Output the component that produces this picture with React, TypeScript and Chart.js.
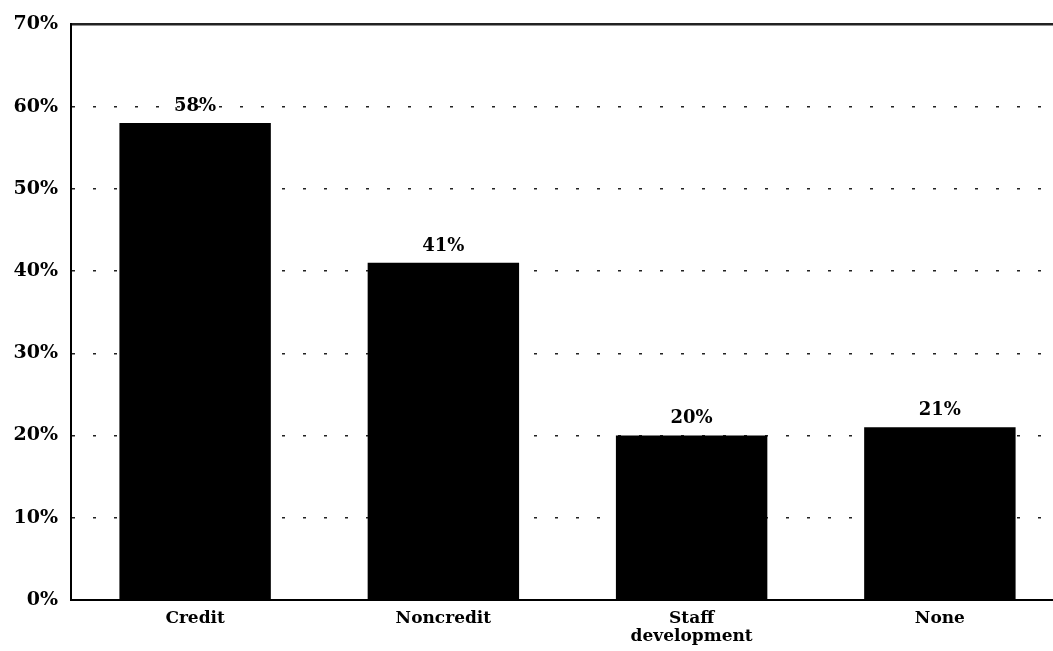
import React, { useEffect, useRef } from "react";
import { Chart, registerables } from "chart.js";

Chart.register(...registerables);

const categories: (string | string[])[] = ["Credit", "Noncredit", ["Staff", "development"], "None"];
const values: number[] = [58, 41, 20, 21];
const yTicks: number[] = [0, 10, 20, 30, 40, 50, 60, 70];

const FONT = "'DejaVu Serif', serif";

const valueLabels = {
  id: "valueLabels",
  afterDatasetsDraw(chart: any) {
    const { ctx } = chart;
    const meta = chart.getDatasetMeta(0);
    ctx.save();
    ctx.fillStyle = "#000";
    ctx.font = `bold 18px ${FONT}`;
    ctx.textAlign = "center";
    ctx.textBaseline = "bottom";
    meta.data.forEach((bar: any, i: number) => {
      ctx.fillText(values[i] + "%", bar.x, bar.y - 8);
    });
    ctx.restore();
  },
};

export default function App() {
  const ref = useRef<HTMLCanvasElement | null>(null);
  useEffect(() => {
    if (!ref.current) return;
    const chart = new Chart(ref.current, {
      type: "bar",
      data: {
        labels: categories,
        datasets: [
          {
            data: values,
            backgroundColor: "#000",
            borderWidth: 0,
            barPercentage: 0.61,
            categoryPercentage: 1,
          },
        ],
      },
      options: {
        responsive: false,
        animation: false,
        events: [],
        layout: { padding: { top: 22, left: 0, right: 0, bottom: 0 } },
        plugins: { legend: { display: false }, tooltip: { enabled: false } },
        scales: {
          x: {
            grid: { display: false, drawTicks: false },
            border: { display: true, color: "#000", width: 2 },
            ticks: {
              color: "#000",
              font: { family: FONT, size: 17, weight: "bold", lineHeight: 1.1 },
              padding: 9,
              maxRotation: 0,
              autoSkip: false,
            },
            afterFit: (s: any) => {
              s.height = 51;
            },
          },
          y: {
            min: 0,
            max: 70,
            afterBuildTicks: (s: any) => {
              s.ticks = yTicks.map((v) => ({ value: v }));
            },
            grid: {
              drawTicks: false,
              color: (c: any) => (c.tick && c.tick.value === 0 ? "rgba(0,0,0,0)" : "#222"),
              lineWidth: (c: any) => (c.tick && c.tick.value === 70 ? 2.5 : 1.6),
            },
            border: {
              display: true,
              color: "#000",
              width: 2,
              dash: (c: any) => (c.type === "tick" && c.tick && c.tick.value !== 70 ? [3, 18] : []),
            },
            ticks: {
              color: "#000",
              font: { family: FONT, size: 19, weight: "bold" },
              padding: 13,
              callback: (v: any) => v + "%",
            },
            afterFit: (s: any) => {
              s.width = 71;
            },
          },
        },
      },
      plugins: [valueLabels],
    });
    return () => chart.destroy();
  }, []);
  return (
    <div
      style={{
        position: "absolute",
        left: 0,
        top: 0,
        width: 1053,
        height: 651,
        overflow: "hidden",
        background: "#fff",
      }}
    >
      <canvas ref={ref} width={1064} height={651} style={{ width: 1064, height: 651, display: "block" }} />
    </div>
  );
}
